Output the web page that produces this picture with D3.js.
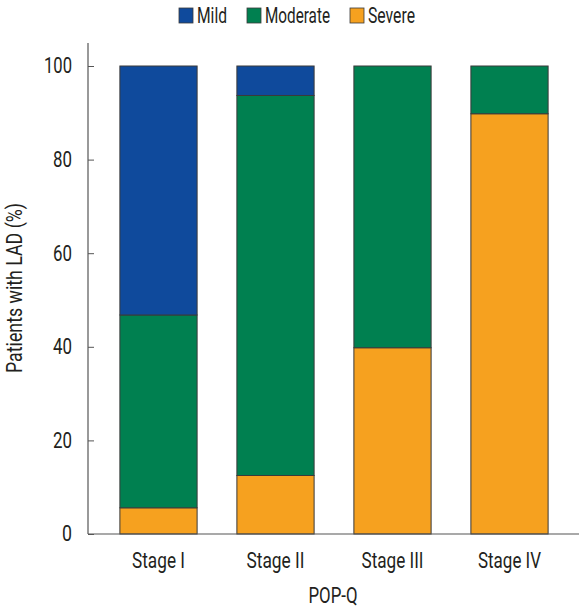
<!DOCTYPE html>
<html><head><meta charset="utf-8">
<script src="https://cdn.jsdelivr.net/npm/d3@7"></script>
<style>body{margin:0;background:#fff}svg{display:block}text{font-family:"Liberation Sans Narrow","Arial Narrow","Roboto",sans-serif;fill:#231f20}</style>
</head><body><svg id="c" width="585" height="609"></svg>
<script>
const categories = ["Stage I", "Stage II", "Stage III", "Stage IV"];
const series = ["Mild", "Moderate", "Severe"];
const severe = [5.6, 12.5, 39.8, 89.8];
const moderate = [41.2, 81.2, 60.2, 10.2];
const mild = [53.2, 6.3, 0, 0];
const yTicks = [0, 20, 40, 60, 80, 100];
const colors = {Mild: "#0f4a9c", Moderate: "#008050", Severe: "#f6a11f"};
// rendered text widths (condensed face emulation)
const textWidths = {"Mild": 30, "Moderate": 65, "Severe": 47, "Stage I": 53, "Stage II": 58, "Stage III": 62, "Stage IV": 63,
  "POP-Q": 49, "Patients with LAD (%)": 170, "0": 10, "20": 19, "40": 19, "60": 19, "80": 19, "100": 28};
const fs = 21.5;

function fit(sel) {
  sel.each(function() {
    const t = d3.select(this).text();
    if (textWidths[t]) d3.select(this).attr("textLength", textWidths[t]).attr("lengthAdjust", "spacingAndGlyphs");
  });
}

const svg = d3.select("#c");
const x = d3.scaleBand().domain(categories).range([100, 568]).paddingInner(0.34).paddingOuter(0.17);
const y = d3.scaleLinear().domain([0, 100]).range([534, 66]);

const rows = categories.map((c, i) => ({cat: c, Severe: severe[i], Moderate: moderate[i], Mild: mild[i]}));
const stack = d3.stack().keys(["Severe", "Moderate", "Mild"])(rows);

svg.append("g").selectAll("g").data(stack).join("g")
  .attr("fill", d => colors[d.key])
  .selectAll("rect").data(d => d.filter(p => p[1] - p[0] > 0)).join("rect")
  .attr("x", d => x(d.data.cat)).attr("width", x.bandwidth())
  .attr("y", d => y(d[1])).attr("height", d => y(d[0]) - y(d[1]))
  .attr("stroke", "#3a3a3a").attr("stroke-width", 1);

// axes
const axisColor = "#555";
svg.append("line").attr("x1", 88).attr("x2", 88).attr("y1", 43).attr("y2", y(0)).attr("stroke", axisColor).attr("stroke-width", 1.2);
svg.append("line").attr("x1", 88).attr("x2", 579).attr("y1", y(0)).attr("y2", y(0)).attr("stroke", axisColor).attr("stroke-width", 1.2);
const yAxis = svg.append("g").attr("transform", "translate(88,0)")
  .call(d3.axisRight(y).tickValues(yTicks).tickSize(6).tickFormat(d3.format("d")));
yAxis.select(".domain").remove();
yAxis.selectAll("line").attr("stroke", axisColor);
yAxis.selectAll("text").attr("x", -16).attr("text-anchor", "end").attr("font-size", fs).attr("fill", "#231f20").call(fit);

const xAxis = svg.append("g").attr("transform", `translate(0,${y(0)})`)
  .call(d3.axisBottom(x).tickSize(0).tickPadding(19));
xAxis.select(".domain").remove();
xAxis.selectAll("text").attr("font-size", fs).attr("fill", "#231f20").call(fit);

svg.append("text").attr("x", 333).attr("y", 603).attr("text-anchor", "middle").attr("font-size", fs).text("POP-Q").call(fit);
svg.append("text").attr("transform", "translate(22,288) rotate(-90)").attr("text-anchor", "middle").attr("font-size", fs).text("Patients with LAD (%)").call(fit);

// legend
const legX = [179, 247, 350];
const lg = svg.append("g").selectAll("g").data(series).join("g")
  .attr("transform", (d, i) => `translate(${legX[i]},8)`);
lg.append("rect").attr("width", 14).attr("height", 15).attr("fill", d => colors[d]).attr("stroke", "#3a3a3a").attr("stroke-width", 0.8);
lg.append("text").attr("x", 18).attr("y", 15).attr("font-size", fs).text(d => d).call(fit);
</script></body></html>
